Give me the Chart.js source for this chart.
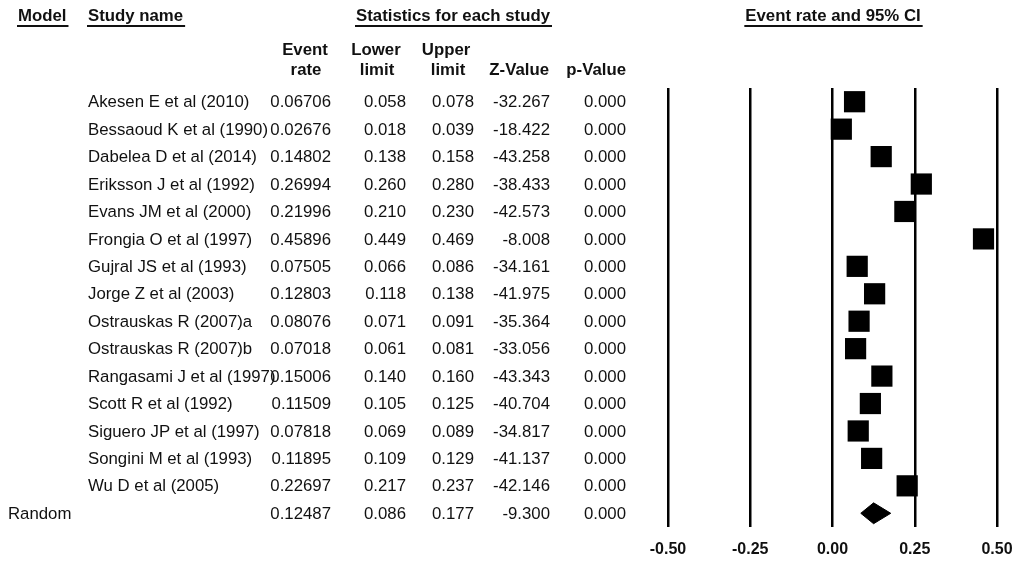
<!DOCTYPE html>
<html>
<head>
<meta charset="utf-8">
<script src="https://cdn.jsdelivr.net/npm/chart.js@4/dist/chart.umd.min.js"></script>
<style>
  html, body { margin: 0; padding: 0; background: #fff; }
  #wrap { width: 1016px; height: 563px; position: relative; }
</style>
</head>
<body>
<div id="wrap"><canvas id="forestChart"></canvas></div>
<script>
const studyNames = [
  'Akesen E et al (2010)', 'Bessaoud K et al (1990)', 'Dabelea D et al (2014)',
  'Eriksson J et al (1992)', 'Evans JM et al (2000)', 'Frongia O et al (1997)',
  'Gujral JS et al (1993)', 'Jorge Z et al (2003)', 'Ostrauskas R (2007)a',
  'Ostrauskas R (2007)b', 'Rangasami J et al (1997)', 'Scott R et al (1992)',
  'Siguero JP et al (1997)', 'Songini M et al (1993)', 'Wu D et al (2005)'
];
const eventRate = [0.06706, 0.02676, 0.14802, 0.26994, 0.21996, 0.45896, 0.07505, 0.12803,
  0.08076, 0.07018, 0.15006, 0.11509, 0.07818, 0.11895, 0.22697];
const lowerLimit = [0.058, 0.018, 0.138, 0.260, 0.210, 0.449, 0.066, 0.118,
  0.071, 0.061, 0.140, 0.105, 0.069, 0.109, 0.217];
const upperLimit = [0.078, 0.039, 0.158, 0.280, 0.230, 0.469, 0.086, 0.138,
  0.091, 0.081, 0.160, 0.125, 0.089, 0.129, 0.237];
const zValue = [-32.267, -18.422, -43.258, -38.433, -42.573, -8.008, -34.161, -41.975,
  -35.364, -33.056, -43.343, -40.704, -34.817, -41.137, -42.146];
const pValue = [0.000, 0.000, 0.000, 0.000, 0.000, 0.000, 0.000, 0.000,
  0.000, 0.000, 0.000, 0.000, 0.000, 0.000, 0.000];

// pooled (random effects) row
const randomLabel = 'Random';
const randomRate = 0.12487;
const randomLower = 0.086;
const randomUpper = 0.177;
const randomZ = -9.300;
const randomP = 0.000;

const xTicks = [-0.50, -0.25, 0.00, 0.25, 0.50];

const FONT = '"Liberation Sans", Arial, sans-serif';
const randomRow = studyNames.length;
const diamondHalf = 0.38;

// table on the left + headers, drawn against the y scale so rows line up
const tablePlugin = {
  id: 'forestTable',
  afterDraw(chart) {
    const ctx = chart.ctx;
    const ys = chart.scales.y;
    ctx.save();
    ctx.fillStyle = '#111';
    ctx.textBaseline = 'middle';

    const underline = (txt, x, y, align) => {
      ctx.textAlign = align;
      ctx.fillText(txt, x, y);
      const w = ctx.measureText(txt).width;
      const x0 = align === 'center' ? x - w / 2 : x;
      ctx.fillRect(x0 - 1, y + 9, w + 3, 2);
    };

    ctx.font = 'bold 16.8px ' + FONT;
    underline('Model', 18, 16, 'left');
    underline('Study name', 88, 16, 'left');
    underline('Statistics for each study', 453, 16, 'center');
    underline('Event rate and 95% CI', 833, 16, 'center');

    ctx.textAlign = 'center';
    ctx.fillText('Event', 305, 50);
    ctx.fillText('rate', 306, 70);
    ctx.fillText('Lower', 376, 50);
    ctx.fillText('limit', 377, 70);
    ctx.fillText('Upper', 446, 50);
    ctx.fillText('limit', 448, 70);
    ctx.textAlign = 'right';
    ctx.fillText('Z-Value', 549, 70);
    ctx.fillText('p-Value', 626, 70);

    ctx.font = '16.8px ' + FONT;
    const row = (i, name, nameX, er, lo, up, z, p) => {
      const y = ys.getPixelForValue(i) + 1;
      ctx.textAlign = 'left';
      ctx.fillText(name, nameX, y);
      ctx.textAlign = 'right';
      ctx.fillText(er.toFixed(5), 331, y);
      ctx.fillText(lo.toFixed(3), 406, y);
      ctx.fillText(up.toFixed(3), 474, y);
      ctx.fillText(z.toFixed(3), 550, y);
      ctx.fillText(p.toFixed(3), 626, y);
    };
    studyNames.forEach((n, i) => {
      row(i, n, 88, eventRate[i], lowerLimit[i], upperLimit[i], zValue[i], pValue[i]);
    });
    row(randomRow, randomLabel, 8, randomRate, randomLower, randomUpper, randomZ, randomP);
    ctx.restore();
  }
};

const ctx = document.getElementById('forestChart');
new Chart(ctx, {
  type: 'scatter',
  data: {
    datasets: [
      {
        label: 'Studies',
        data: eventRate.map((v, i) => ({ x: v, y: i })),
        pointStyle: 'rect',
        pointRadius: 15,
        backgroundColor: '#000',
        borderWidth: 0
      },
      {
        type: 'line',
        label: 'Random',
        data: [
          { x: randomLower, y: randomRow },
          { x: randomRate, y: randomRow - diamondHalf },
          { x: randomUpper, y: randomRow },
          { x: randomRate, y: randomRow + diamondHalf },
          { x: randomLower, y: randomRow }
        ],
        borderColor: '#000',
        backgroundColor: '#000',
        borderWidth: 1,
        pointRadius: 0,
        tension: 0,
        fill: 'shape'
      }
    ]
  },
  options: {
    responsive: true,
    maintainAspectRatio: false,
    animation: false,
    layout: {
      padding: { left: 668, right: 19, top: 88, bottom: 4 }
    },
    plugins: {
      legend: { display: false },
      tooltip: { enabled: false }
    },
    scales: {
      x: {
        type: 'linear',
        min: -0.5,
        max: 0.5,
        afterBuildTicks: s => { s.ticks = xTicks.map(v => ({ value: v })); },
        afterFit: s => { s.height = 32; s.paddingLeft = 0; s.paddingRight = 0; },
        border: { display: false },
        grid: { color: '#000', lineWidth: 2.5, drawTicks: false },
        ticks: {
          color: '#111',
          padding: 13,
          maxRotation: 0,
          font: { family: FONT, size: 16, weight: 'bold' },
          callback: v => Number(v).toFixed(2)
        }
      },
      y: {
        type: 'linear',
        reverse: true,
        min: -0.5,
        max: randomRow + 0.5,
        display: false
      }
    }
  },
  plugins: [tablePlugin]
});
</script>
</body>
</html>
